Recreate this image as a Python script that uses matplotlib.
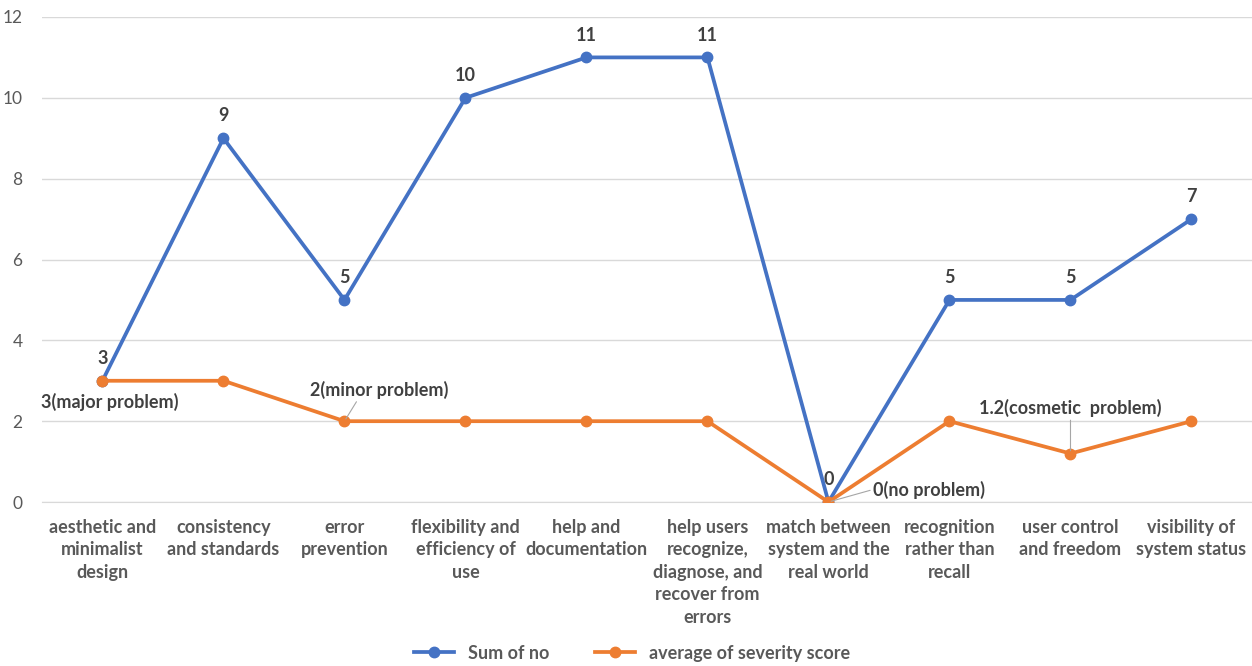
import matplotlib.pyplot as plt

plt.rcParams['font.family'] = ['Lato', 'DejaVu Sans']

categories = ['aesthetic and\nminimalist\ndesign', 'consistency\nand standards', 'error\nprevention',
              'flexibility and\nefficiency of\nuse', 'help and\ndocumentation',
              'help users\nrecognize,\ndiagnose, and\nrecover from\nerrors',
              'match between\nsystem and the\nreal world', 'recognition\nrather than\nrecall',
              'user control\nand freedom', 'visibility of\nsystem status']
sum_of_no = [3, 9, 5, 10, 11, 11, 0, 5, 5, 7]
avg_severity = [3, 3, 2, 2, 2, 2, 0, 2, 1.2, 2]

BLUE = '#4472C4'
ORANGE = '#ED7D31'
GRAY = '#595959'
DARK = '#404040'

fig = plt.figure(figsize=(12.52, 6.66), dpi=100)
ax = fig.add_axes([0.0335, 0.2462, 0.9665, 0.7283])
x = list(range(len(categories)))

ax.plot(x, sum_of_no, color=BLUE, lw=2.7, marker='o', ms=7.5, label='Sum of no', zorder=3)
ax.plot(x, avg_severity, color=ORANGE, lw=2.7, marker='o', ms=7.5, label='average of severity score', zorder=3)

# data labels for the blue line
for i, v in enumerate(sum_of_no):
    ax.annotate(str(v), (i, v), xytext=(0, 10), textcoords='offset points',
                ha='center', va='bottom', fontsize=13, fontweight='bold', color=DARK)

# severity notes
ax.annotate('3(major problem)', (0, 3), xytext=(5, -9), textcoords='offset points',
            ha='center', va='top', fontsize=13, fontweight='bold', color=DARK)
ax.annotate('2(minor problem)', (2, 2), xytext=(-25, 16), textcoords='offset points',
            ha='left', va='bottom', fontsize=13, fontweight='bold', color=DARK,
            arrowprops=dict(arrowstyle='-', color='#A6A6A6', lw=0.8, shrinkA=0, shrinkB=2,
                            relpos=(0.35, 0)))
ax.annotate('0(no problem)', (6, 0), xytext=(32, 9), textcoords='offset points',
            ha='left', va='center', fontsize=13, fontweight='bold', color=DARK,
            arrowprops=dict(arrowstyle='-', color='#A6A6A6', lw=0.8, shrinkA=0, shrinkB=2,
                            relpos=(0, 0.5)))
ax.annotate('1.2(cosmetic  problem)', (8, 1.2), xytext=(0, 26), textcoords='offset points',
            ha='center', va='bottom', fontsize=13, fontweight='bold', color=DARK,
            arrowprops=dict(arrowstyle='-', color='#A6A6A6', lw=0.8, shrinkA=0, shrinkB=2))

ax.set_xlim(-0.5, len(categories) - 0.5)
ax.set_ylim(0, 12)
ax.set_yticks(range(0, 13, 2))
ax.set_xticks(x)
ax.set_xticklabels(categories, fontsize=13, fontweight='bold', color=GRAY, linespacing=1.4)
ax.tick_params(axis='y', labelsize=12.5, colors=GRAY, length=0, pad=14)
ax.tick_params(axis='x', length=0, pad=12)
ax.grid(axis='y', color='#D9D9D9', lw=1)
ax.set_axisbelow(True)
for s in ['top', 'right', 'left']:
    ax.spines[s].set_visible(False)
ax.spines['bottom'].set_color('#D9D9D9')

leg = fig.legend(loc='lower center', bbox_to_anchor=(0.505, -0.018), ncol=2, frameon=False,
                 prop={'size': 13, 'weight': 'bold'}, handlelength=2.2, columnspacing=2.5)
for t in leg.get_texts():
    t.set_color(GRAY)

fig.savefig('out.png', dpi=100)
